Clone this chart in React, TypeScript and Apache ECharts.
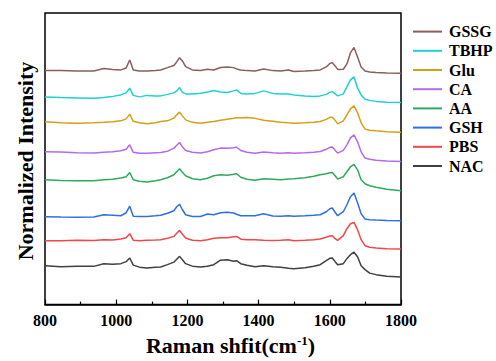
import React, { useEffect, useRef } from "react";
import * as echarts from "echarts";

// Raman shift sample positions (cm^-1)
const shifts = [800, 845, 890, 937, 965, 990, 1013, 1028, 1038, 1048, 1065, 1087, 1110, 1125, 1144, 1162, 1170, 1178, 1186, 1195, 1214, 1237, 1256, 1274, 1293, 1312, 1330, 1338, 1350, 1367, 1390, 1414, 1440, 1462, 1484, 1499, 1530, 1555, 1573, 1590, 1600, 1607, 1615, 1622, 1638, 1648, 1658, 1668, 1678, 1688, 1699, 1712, 1730, 1760, 1800];

const seriesNames = ["GSSG", "TBHP", "Glu", "CA", "AA", "GSH", "PBS", "NAC"];
const seriesColors = ["#8B5D5D", "#1FD2D2", "#D4A017", "#B46AEC", "#2EAA5E", "#2F6FE4", "#F04848", "#404040"];
// vertical stacking offsets (arbitrary normalized units)
const offsets = [234, 208, 183, 153, 125, 88, 64, 39];

const gssg = [0.3, 0.3, 0, 0, 2.5, 1.5, 1, 3, 11, 1, 0, 0, 0.5, 1, 3.3, 5.5, 9, 13.3, 10, 4.3, 1, 0.5, 1.7, 1, 3.5, 4, 3.3, 2, 1, 0.3, 0, 2, 0.3, 0, 1, -0.5, 0, 0.5, 1, 4, 7.5, 8.3, 5, 1.5, 1.7, 7, 18, 23.5, 14, 4, 0, -1, -1.5, -2, -2.3];
const tbhp = [0, -0.7, -1, -1.3, -0.5, 0.5, 2, 4, 8.7, 1.5, 0, 1.5, 1, 1, 2.5, 4, 6, 9.3, 4.5, 3, 3, 3.7, 5, 6.3, 5, 4.3, 6, 7, 3.5, 3, 3.5, 6, 3.5, 3, 3, 2, 1, 0.3, 1, 2.5, 4.5, 5.3, 3, 1, 3, 10, 17, 20, 9, 2, -2.3, -3.5, -4.5, -5.3, -5.7];
const glu = [0, -1, -1.3, -1, -0.5, 0, 1, 3, 7.7, 0.5, -1, -2, -1, 0.3, 1, 3.7, 7, 9.7, 6, 2, -0.5, -1.3, -0.5, 0.3, 1.5, 2.7, 3.5, 4, 4, 4.3, 3.5, 1.5, 0.5, -0.5, -1, -1.3, -1, -0.5, 0.3, 2.5, 4.5, 4.7, 1.5, -2, 1, 7, 13, 16, 9, -1, -7.3, -8.5, -9, -9.8, -10.3];
const ca = [0, -0.3, -1, -1.3, -0.5, 0, 1, 2.5, 7, -0.5, -1.5, -1.5, -1, -0.7, 0.5, 3.7, 6.5, 9.3, 5, 1.3, -0.5, -1.3, 0, 2, 3.7, 3.5, 4, 4.7, 1.3, -0.5, -1.5, -0.3, -1, -1.5, -1, -1.5, -1, -0.5, 0.3, 2.5, 4.5, 4.7, 1.5, -1.3, 1.5, 7, 14, 17, 10, 0, -6.3, -7.5, -8.5, -9.2, -9.7];
const aa = [0, -0.7, -1, -1, 0, 0.5, 1.7, 3, 7.3, 0, -1.5, -2.3, -1, 0, 2, 5, 8, 11, 7.5, 4, 1, 0, 1.5, 4, 5, 4.5, 5.5, 6, 2.5, 0.5, -0.5, 1, 0.5, 0, 0.7, 1, 2, 3.5, 5, 6, 7, 7.3, 4, 0.7, 3, 8, 13, 15.5, 10, 0, -4, -6, -7.5, -9.5, -11];
const gsh = [0, -0.3, -0.5, -0.3, 2, 1.5, 1, 4, 10.5, 0.5, 0.3, 0.3, 1, 1.5, 3.5, 6, 10, 12.5, 7, 2, 0.3, 0.3, 2.7, 2, 4, 4.5, 3.7, 2.5, 1, 1, 1, 3, 0.7, 0.5, 1, 0.5, 1, 1.5, 2, 5, 8, 8.7, 4.5, 1, 5, 12, 20, 23.7, 14, 3, -2.3, -3, -3.3, -3.7, -4];
const pbs = [0, 0, 0.5, 0.3, 1, 0.7, 1.7, 3, 7, 0.5, 0, 0.5, 0.7, 1, 2.5, 4.3, 7.5, 10.3, 6.5, 2.7, 0.5, 0, 1, 2.5, 3, 3, 4, 4.3, 1.5, 1, 1, 0.5, 0.3, 0.5, 1, 0, 0.5, 1, 1.7, 3.5, 4.7, 5, 2, 0.3, 5, 12, 17, 18.3, 11, 1, -5, -6.5, -7.3, -8, -8.3];
const nac = [0, -1, -0.5, -0.7, 2, 1.5, 2, 4, 7.7, 0.5, -1.5, -2.3, -1.5, -1.3, 1, 3.5, 6.5, 9.3, 6, 2, -0.5, -1.3, -0.5, 1, 5.5, 6, 4.5, 5, 2, 0.5, -1, 0, -1, -1.5, -2.5, -3, -2, -0.5, 1, 5, 7.3, 7.7, 4, 1, 2, 7, 11, 13.5, 9, 0, -4, -7.5, -9, -10.5, -11.3];

const spectra = [gssg, tbhp, glu, ca, aa, gsh, pbs, nac];

const xTicks = { min: 800, max: 1800, interval: 200 };
const yRange = { min: 0, max: 292 };

const FONT = "'Liberation Serif', 'Times New Roman', serif";

export default function App() {
  const ref = useRef<HTMLDivElement>(null);
  useEffect(() => {
    if (!ref.current) return;
    const chart = echarts.init(ref.current, null, { renderer: "svg" });
    const series = seriesNames.map((name, k) => ({
      name,
      type: "line",
      data: shifts.map((x, i) => [x, offsets[k] + spectra[k][i]]),
      showSymbol: false,
      symbol: "none",
      smooth: false,
      lineStyle: { color: seriesColors[k], width: 1.5 },
      itemStyle: { color: seriesColors[k] },
      z: 2,
    }));
    chart.setOption({
      animation: false,
      backgroundColor: "#fff",
      grid: {
        left: 45,
        right: 95,
        top: 13,
        bottom: 56,
        show: true,
        borderColor: "#000",
        borderWidth: 1.5,
        backgroundColor: "transparent",
      },
      legend: {
        data: seriesNames,
        orient: "vertical",
        left: 413,
        top: 22,
        padding: 0,
        itemGap: 0,
        itemWidth: 29,
        itemHeight: 2,
        icon: "rect",
        textStyle: {
          fontFamily: FONT,
          fontWeight: "bold",
          fontSize: 16,
          color: "#000",
          lineHeight: 19.2,
          padding: [0, 0, 0, 2],
        },
      },
      xAxis: {
        type: "value",
        min: xTicks.min,
        max: xTicks.max,
        interval: xTicks.interval,
        name: "Raman shfit(cm{sup|-1})",
        nameLocation: "middle",
        nameGap: 26,
        nameTextStyle: {
          fontFamily: FONT,
          fontWeight: "bold",
          fontSize: 22,
          color: "#000",
          padding: [0, 0, 0, 15],
          rich: {
            sup: {
              fontFamily: FONT,
              fontWeight: "bold",
              fontSize: 13,
              color: "#000",
              verticalAlign: "top",
              padding: [0, 0, 10, 0],
            },
          },
        },
        axisLine: { show: true, onZero: false, lineStyle: { color: "#000", width: 1.5 } },
        axisTick: { show: true, inside: true, length: 5, lineStyle: { color: "#000", width: 1.2 } },
        minorTick: { show: true, splitNumber: 2, length: 3, lineStyle: { color: "#000", width: 1.2 } },
        axisLabel: {
          fontFamily: FONT,
          fontWeight: "bold",
          fontSize: 16,
          color: "#000",
          margin: 8,
          formatter: (v: number) => String(v),
        },
        splitLine: { show: false },
      },
      yAxis: {
        type: "value",
        min: yRange.min,
        max: yRange.max,
        axisLine: { show: false },
        axisTick: { show: false },
        axisLabel: { show: false },
        splitLine: { show: false },
      },
      graphic: [
        {
          type: "text",
          x: 25,
          y: 161,
          rotation: Math.PI / 2,
          style: {
            text: "Normalized Intensity",
            fontFamily: FONT,
            fontWeight: "bold",
            fontSize: 22,
            fill: "#000",
            textAlign: "center",
            textVerticalAlign: "middle",
          },
        },
      ],
      series,
    });
    return () => chart.dispose();
  }, []);
  return (
    <div
      ref={ref}
      style={{ position: "absolute", left: 0, top: 0, width: 496, height: 361 }}
    />
  );
}
